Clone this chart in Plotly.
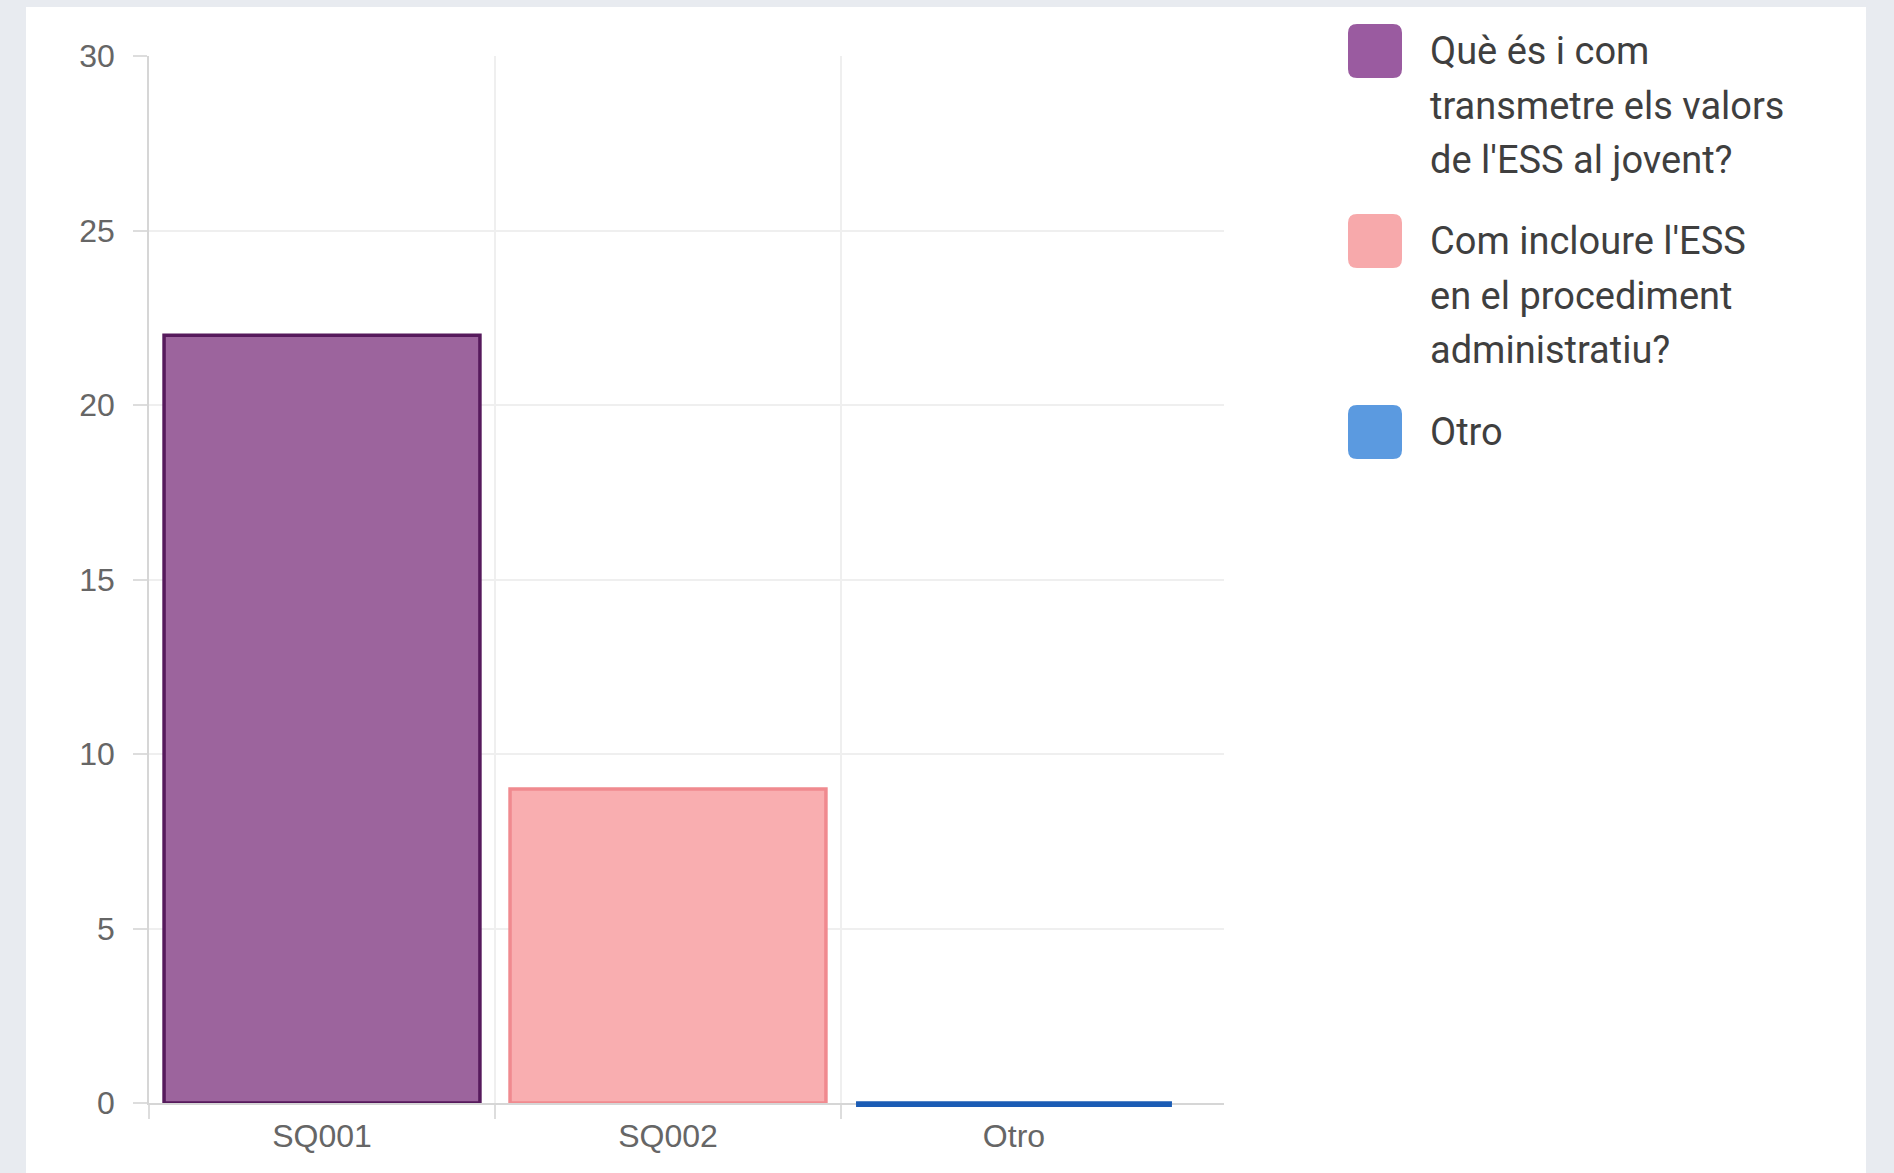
import plotly.graph_objects as go

# ---- data ----
categories = ["SQ001", "SQ002", "Otro"]
values = [22, 9, 0]
series_names = [
    "Què és i com transmetre els valors de l'ESS al jovent?",
    "Com incloure l'ESS en el procediment administratiu?",
    "Otro",
]
legend_lines = [
    ["Què és i com", "transmetre els valors", "de l'ESS al jovent?"],
    ["Com incloure l'ESS", "en el procediment", "administratiu?"],
    ["Otro"],
]
y_ticks = [0, 5, 10, 15, 20, 25, 30]

# ---- styles ----
fill_colors = ["#9c649d", "#f9aeb0", "#5b9ae0"]
border_colors = ["#561a5c", "#f08a8f", "#1b5cb5"]
legend_colors = ["#9a5ba0", "#f7a9ab", "#5b9ae0"]
page_bg = "#e8ebf0"

OFF = 0  # body margin removed via post_script
W, H = 1894, 1173
L, T = 149 - OFF, 56 - OFF
R = (W + OFF) - 1224
B = (H + OFF) - 1103
PW, PH = W - L - R, H - T - B
BAR_W = 0.913
X_RANGE = [-0.5, len(categories) - 0.393]
Y_RANGE = [0, 30]


def px_x(px):
    return (px - OFF - L) / PW


def px_y(py):
    return 1 - (py - OFF - T) / PH


positions = list(range(len(categories)))
fig = go.Figure()
for i, (pos, val, name) in enumerate(zip(positions, values, series_names)):
    fig.add_trace(go.Bar(
        x=[pos], y=[val], name=name, width=BAR_W,
        marker=dict(color=fill_colors[i],
                    line=dict(color=border_colors[i], width=3.5)),
        showlegend=False,
    ))

shapes = []
# white card behind chart
shapes.append(dict(type="rect", xref="paper", yref="paper", layer="below",
                   x0=px_x(26), x1=px_x(1866), y0=px_y(1190), y1=px_y(7),
                   fillcolor="white", line=dict(width=0)))
# zero-height bars: draw their border as in the original
for i, val in enumerate(values):
    if val == 0:
        xa = (positions[i] - BAR_W / 2 - X_RANGE[0]) / (X_RANGE[1] - X_RANGE[0])
        xb = (positions[i] + BAR_W / 2 - X_RANGE[0]) / (X_RANGE[1] - X_RANGE[0])
        yv = (val - Y_RANGE[0]) / (Y_RANGE[1] - Y_RANGE[0])
        shapes.append(dict(type="line", xref="paper", yref="paper",
                           ysizemode="pixel", yanchor=yv,
                           x0=xa, x1=xb, y0=-1.5, y1=-1.5,
                           line=dict(color=border_colors[i], width=5)))

annotations = []
box_centers_y = [51, 241, 432]
line_step = 54.5
box_cx = 1375
text_x = 1428
r = 9
h = 27
rr_path = (f"M {-h + r},{-h} L {h - r},{-h} Q {h},{-h} {h},{-h + r} "
           f"L {h},{h - r} Q {h},{h} {h - r},{h} L {-h + r},{h} "
           f"Q {-h},{h} {-h},{h - r} L {-h},{-h + r} Q {-h},{-h} {-h + r},{-h} Z")
for i, lines in enumerate(legend_lines):
    cy = box_centers_y[i]
    shapes.append(dict(type="path", xref="paper", yref="paper",
                       xsizemode="pixel", ysizemode="pixel",
                       xanchor=px_x(box_cx), yanchor=px_y(cy),
                       path=rr_path, fillcolor=legend_colors[i],
                       line=dict(width=0)))
    for j, txt in enumerate(lines):
        annotations.append(dict(
            x=px_x(text_x), y=px_y(cy + j * line_step),
            xref="paper", yref="paper", xanchor="left", yanchor="middle",
            text=txt, showarrow=False,
            font=dict(family="Roboto", size=38, color="#3f3f3f"),
        ))

fig.update_layout(
    width=W, height=H,
    margin=dict(l=L, r=R, t=T, b=B, pad=0, autoexpand=False),
    paper_bgcolor=page_bg,
    plot_bgcolor="white",
    barmode="overlay",
    shapes=shapes,
    annotations=annotations,
    showlegend=False,
    font=dict(family="Liberation Sans, Arial", size=32, color="#666666"),
)
boundaries = [p - 0.5 for p in positions]
fig.update_xaxes(
    type="linear", range=X_RANGE, automargin=False,
    tickmode="array", tickvals=positions, ticktext=categories,
    showgrid=False, ticks="",
    showline=True, linecolor="#d6d6d6", linewidth=1.5,
    minor=dict(tickmode="array", tickvals=boundaries, showgrid=True,
               gridcolor="#efefef", gridwidth=1.5,
               ticks="outside", ticklen=14, tickcolor="#dddddd", tickwidth=1.5),
    ticklabelstandoff=4,
    tickfont=dict(family="Liberation Sans, Arial", size=32, color="#666666"),
    zeroline=False, fixedrange=True,
)
fig.update_yaxes(
    range=Y_RANGE, automargin=False,
    tickvals=y_ticks, ticktext=[str(v) for v in y_ticks],
    showgrid=True, gridcolor="#efefef", gridwidth=1.5,
    zeroline=False,
    showline=True, linecolor="#d6d6d6", linewidth=1.5,
    ticks="outside", ticklen=14, tickcolor="#dddddd", tickwidth=1.5,
    ticklabelstandoff=12,
    tickfont=dict(family="Liberation Sans, Arial", size=32, color="#666666"),
    fixedrange=True,
)

fig.write_html(
    "out.html",
    config=dict(displayModeBar=False),
    post_script=("document.body.style.margin='0';"
                 "document.body.style.overflow='hidden';"
                 f"document.body.style.background='{page_bg}';"),
)
